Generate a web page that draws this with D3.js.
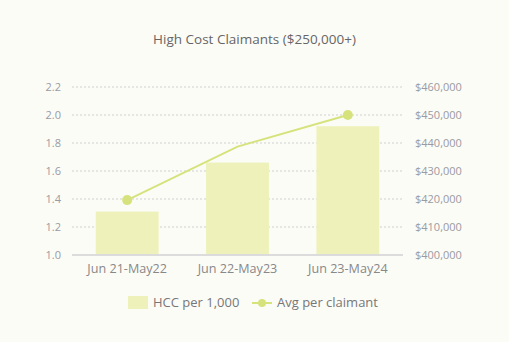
<!DOCTYPE html>
<html><head><meta charset="utf-8">
<script src="https://cdn.jsdelivr.net/npm/d3@7"></script>
<style>
html,body{margin:0;padding:0;background:#fcfcf7;}
svg{display:block;font-family:"Open Sans",sans-serif;}
</style></head>
<body>
<svg id="c" width="509" height="342"></svg>
<script>
const categories = ["Jun 21-May22", "Jun 22-May23", "Jun 23-May24"];
const hccPer1000 = [1.31, 1.66, 1.92];
const avgPerClaimant = [419600, 438700, 450000];
const leftTicks = [1.0, 1.2, 1.4, 1.6, 1.8, 2.0, 2.2];
const rightTicks = [400000, 410000, 420000, 430000, 440000, 450000, 460000];
const title = "High Cost Claimants ($250,000+)";
const seriesNames = ["HCC per 1,000", "Avg per claimant"];

const svg = d3.select("#c");
const W = 509, H = 342;
const m = {left: 72, right: 106, top: 87, bottom: 87};
const x0 = m.left, x1 = W - m.right, yTop = m.top, yBot = H - m.bottom;

svg.append("rect").attr("width", W).attr("height", H).attr("fill", "#fcfcf7");

const x = d3.scaleBand().domain(categories).range([x0, x1]).paddingInner(0.43).paddingOuter(0.215);
const yL = d3.scaleLinear().domain([1.0, 2.2]).range([yBot, yTop]);
const yR = d3.scaleLinear().domain([400000, 460000]).range([yBot, yTop]);

const barColor = "#eef2ba", lineColor = "#d6e37c";

// title
svg.append("text").attr("x", 254.5).attr("y", 44).attr("text-anchor", "middle")
  .attr("font-size", 13.5).attr("fill", "#666").text(title);

// gridlines
svg.append("g").selectAll("line").data(leftTicks.filter(t => t > 1.0)).join("line")
  .attr("x1", x0).attr("x2", x1).attr("y1", d => yL(d)).attr("y2", d => yL(d))
  .attr("stroke", "#cfcfcf").attr("stroke-width", 1).attr("stroke-dasharray", "2,2");

// left axis
const gl = svg.append("g").attr("transform", `translate(${x0 - 11},0)`)
  .call(d3.axisLeft(yL).tickValues(leftTicks).tickFormat(d3.format(".1f")).tickSize(0).tickPadding(0));
gl.select(".domain").remove();
gl.selectAll("text").attr("font-size", 11).attr("fill", "#9a9aa3").attr("font-family", "Open Sans").attr("dy", "0.35em");

// right axis
const gr = svg.append("g").attr("transform", `translate(${x1 + 12},0)`)
  .call(d3.axisRight(yR).tickValues(rightTicks).tickFormat(d => "$" + d3.format(",")(d)).tickSize(0).tickPadding(0));
gr.select(".domain").remove();
gr.selectAll("text").attr("font-size", 11).attr("fill", "#9a9aa3").attr("font-family", "Open Sans").attr("dy", "0.35em");

// bars
svg.append("g").selectAll("rect").data(hccPer1000).join("rect")
  .attr("x", (d, i) => x(categories[i])).attr("width", x.bandwidth())
  .attr("y", d => yL(d)).attr("height", d => yBot - yL(d)).attr("fill", barColor);

// baseline
svg.append("line").attr("x1", x0).attr("x2", x1).attr("y1", yBot).attr("y2", yBot)
  .attr("stroke", "#dcdcdc").attr("stroke-width", 2);

// x axis labels
const gx = svg.append("g").attr("transform", `translate(0,${yBot})`)
  .call(d3.axisBottom(x).tickSize(0).tickPadding(9));
gx.select(".domain").remove();
gx.selectAll("text").attr("font-size", 12.6).attr("fill", "#888").attr("font-family", "Open Sans");

// line
const cx = (d, i) => x(categories[i]) + x.bandwidth() / 2;
svg.append("path").datum(avgPerClaimant)
  .attr("d", d3.line().x(cx).y(d => yR(d)))
  .attr("fill", "none").attr("stroke", lineColor).attr("stroke-width", 2);
svg.append("g").selectAll("circle").data(avgPerClaimant).join("circle")
  .attr("cx", cx).attr("cy", d => yR(d)).attr("r", (d, i) => i === 1 ? 0 : 5)
  .attr("fill", lineColor);

// legend
const lg = svg.append("g");
lg.append("rect").attr("x", 128).attr("y", 296).attr("width", 20).attr("height", 13).attr("fill", barColor);
lg.append("text").attr("x", 153).attr("y", 307).attr("font-size", 13).attr("fill", "#777").text(seriesNames[0]);
lg.append("line").attr("x1", 252).attr("x2", 272).attr("y1", 303).attr("y2", 303).attr("stroke", lineColor).attr("stroke-width", 2);
lg.append("circle").attr("cx", 262).attr("cy", 303).attr("r", 4).attr("fill", lineColor);
lg.append("text").attr("x", 277).attr("y", 307).attr("font-size", 13).attr("fill", "#777").text(seriesNames[1]);
</script>
</body></html>
